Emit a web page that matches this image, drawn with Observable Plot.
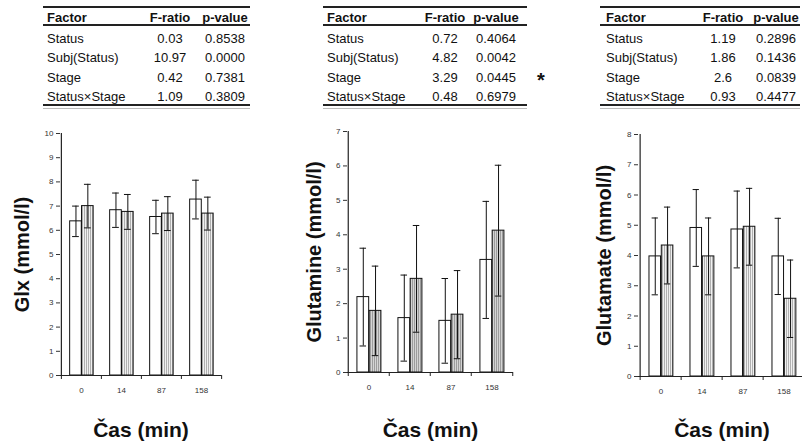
<!DOCTYPE html>
<html><head><meta charset="utf-8">
<script src="https://cdn.jsdelivr.net/npm/d3@7"></script>
<script src="https://cdn.jsdelivr.net/npm/@observablehq/plot@0.6"></script>
<style>
body{margin:0;background:#fff;overflow:hidden}
#root{position:relative;width:802px;height:445px;overflow:hidden;background:#fff;font-family:"Liberation Sans",Arial,sans-serif}
.panel{position:absolute;top:0;width:270px;height:445px}
.panel svg{max-width:none !important}
.t{position:absolute;font-size:13px;color:#111;white-space:nowrap;line-height:1}
.ln{position:absolute;background:#222}
</style></head><body><div id="root"></div>
<script>
// ---- data ----
const times = ["0", "14", "87", "158"];
const factors = ["Status", "Subj(Status)", "Stage", "Status×Stage"];
const tableHeader = ["Factor", "F-ratio", "p-value"];

const glxF = ["0.03", "10.97", "0.42", "1.09"];
const glxP = ["0.8538", "0.0000", "0.7381", "0.3809"];
const glnF = ["0.72", "4.82", "3.29", "0.48"];
const glnP = ["0.4064", "0.0042", "0.0445", "0.6979"];
const gluF = ["1.19", "1.86", "2.6", "0.93"];
const gluP = ["0.2896", "0.1436", "0.0839", "0.4477"];

const glxWhite = [6.37, 6.83, 6.55, 7.27];
const glxWhiteSd = [0.63, 0.71, 0.69, 0.80];
const glxShade = [7.00, 6.76, 6.69, 6.69];
const glxShadeSd = [0.90, 0.72, 0.70, 0.68];

const glnWhite = [2.19, 1.58, 1.50, 3.27];
const glnWhiteSd = [1.42, 1.25, 1.23, 1.70];
const glnShade = [1.79, 2.72, 1.68, 4.12];
const glnShadeSd = [1.30, 1.55, 1.28, 1.90];

const gluWhite = [3.97, 4.91, 4.86, 3.97];
const gluWhiteSd = [1.27, 1.27, 1.27, 1.26];
const gluShade = [4.33, 3.97, 4.95, 2.57];
const gluShadeSd = [1.27, 1.27, 1.27, 1.28];

const xTitle = "Čas (min)";
const significance = "*";

const root = document.getElementById("root");

function addPatterns(svg) {
  const defs = d3.select(svg).insert("defs", ":first-child");
  const p1 = defs.append("pattern").attr("id", "dotsLight").attr("width", 2).attr("height", 2).attr("patternUnits", "userSpaceOnUse");
  p1.append("rect").attr("width", 2).attr("height", 2).attr("fill", "#f0f0f0");
  p1.append("rect").attr("width", 1).attr("height", 2).attr("fill", "#b0b0b0");
  const p2 = defs.append("pattern").attr("id", "dotsDark").attr("width", 2).attr("height", 2).attr("patternUnits", "userSpaceOnUse");
  p2.append("rect").attr("width", 2).attr("height", 2).attr("fill", "#d4d4d4");
  p2.append("rect").attr("width", 1).attr("height", 2).attr("fill", "#9c9c9c");
}

function panel({left, ml, mr, mt, mb, yMax, label, labelDx, white, whiteSd, shade, shadeSd, pattern}) {
  const W = 270, H = 445;
  const bw = (W - ml - mr) / times.length;
  const rows = times.map((t, i) => ({t, a: white[i], as: whiteSd[i], b: shade[i], bs: shadeSd[i]}));
  const a0 = 0.215 * bw, a1 = 0.51 * bw, b1 = 0.805 * bw;
  const cA = (a0 + a1) / 2, cB = (a1 + b1) / 2;
  const cap = 3.5;
  const titleDy = 430 - (H - mb);
  const svg = Plot.plot({
    width: W, height: H,
    marginLeft: ml, marginRight: mr, marginTop: mt, marginBottom: mb,
    style: {fontFamily: "'Liberation Sans', Arial, sans-serif", background: "transparent", color: "#222", overflow: "visible", maxWidth: "none"},
    x: {type: "band", domain: times, padding: 0},
    y: {domain: [0, yMax]},
    marks: [
      Plot.barY(rows, {x: "t", y: "a", fill: "white", stroke: "#111", strokeWidth: 1, insetLeft: a0, insetRight: bw - a1}),
      Plot.barY(rows, {x: "t", y: "b", fill: `url(#${pattern})`, stroke: "#111", strokeWidth: 1, insetLeft: a1, insetRight: bw - b1}),
      Plot.ruleX(rows, {x: "t", y1: d => d.a - d.as, y2: d => d.a + d.as, dx: cA - bw / 2, stroke: "#111", strokeWidth: 1}),
      Plot.ruleX(rows, {x: "t", y1: d => d.b - d.bs, y2: d => d.b + d.bs, dx: cB - bw / 2, stroke: "#111", strokeWidth: 1}),
      Plot.tickY(rows, {x: "t", y: d => d.a + d.as, insetLeft: cA - cap, insetRight: bw - cA - cap, stroke: "#111"}),
      Plot.tickY(rows, {x: "t", y: d => d.a - d.as, insetLeft: cA - cap, insetRight: bw - cA - cap, stroke: "#111"}),
      Plot.tickY(rows, {x: "t", y: d => d.b + d.bs, insetLeft: cB - cap, insetRight: bw - cB - cap, stroke: "#111"}),
      Plot.tickY(rows, {x: "t", y: d => d.b - d.bs, insetLeft: cB - cap, insetRight: bw - cB - cap, stroke: "#111"}),
      Plot.ruleY([0], {stroke: "#222", strokeWidth: 1.2}),
      Plot.ruleX([times[0]], {dx: -bw / 2, stroke: "#222", strokeWidth: 1.2}),
      Plot.axisY({ticks: d3.range(0, yMax + 1), tickFormat: d3.format("d"), tickSize: 4, tickPadding: 3, fontSize: 8, label: null, color: "#333"}),
      Plot.axisX({tickSize: 0, tickPadding: 12, fontSize: 8, label: null, color: "#333"}),
      Plot.axisX(times, {tickSize: 4, dx: -bw / 2, fill: "none", label: null, stroke: "#222"}),
      Plot.axisX([times[times.length - 1]], {tickSize: 4, dx: bw / 2, fill: "none", label: null, stroke: "#222"}),
      Plot.text([label], {frameAnchor: "left", textAnchor: "middle", lineAnchor: "middle", rotate: -90, dx: labelDx, fontSize: 20, fontWeight: "bold", fill: "#111", text: d => d}),
      Plot.text([xTitle], {frameAnchor: "bottom", textAnchor: "middle", dy: titleDy, lineAnchor: "middle", fontSize: 21, fontWeight: "bold", fill: "#111", text: d => d})
    ]
  });
  addPatterns(svg);
  const div = document.createElement("div");
  div.className = "panel";
  div.style.left = left + "px";
  div.appendChild(svg);
  root.appendChild(div);
}

function table({x0, x1, fx, fc, pc, fv, pv}) {
  const rowY = [17, 37.5, 57, 76.5, 96];
  const put = (txt, x, y, align, bold) => {
    const s = document.createElement("span");
    s.className = "t";
    s.textContent = txt;
    s.style.left = x + "px";
    s.style.top = y + "px";
    s.style.transform = align === "left" ? "translate(0,-50%)" : "translate(-50%,-50%)";
    if (bold) s.style.fontWeight = "bold";
    root.appendChild(s);
  };
  put(tableHeader[0], fx, rowY[0], "left", true);
  put(tableHeader[1], fc, rowY[0], "center", true);
  put(tableHeader[2], pc, rowY[0], "center", true);
  factors.forEach((f, i) => {
    put(f, fx, rowY[i + 1], "left", false);
    put(fv[i], fc, rowY[i + 1], "center", false);
    put(pv[i], pc, rowY[i + 1], "center", false);
  });
  const line = (y, h, c) => {
    const d = document.createElement("div");
    d.className = "ln";
    d.style.left = x0 + "px"; d.style.width = (x1 - x0) + "px";
    d.style.top = y + "px"; d.style.height = h + "px";
    if (c) d.style.background = c;
    root.appendChild(d);
  };
  line(6, 2);
  line(24, 1.5);
  line(104, 2);
  line(108, 1, "#bbb");
}

table({x0: 43, x1: 250, fx: 47, fc: 170, pc: 225, fv: glxF, pv: glxP});
table({x0: 323, x1: 527, fx: 327, fc: 445, pc: 496, fv: glnF, pv: glnP});
table({x0: 600, x1: 800, fx: 606, fc: 723, pc: 776, fv: gluF, pv: gluP});

const star = document.createElement("span");
star.className = "t";
star.textContent = significance;
star.style.left = "541px"; star.style.top = "80px";
star.style.fontSize = "20px"; star.style.fontWeight = "bold";
star.style.transform = "translate(-50%,-50%)";
root.appendChild(star);

panel({left: 0, ml: 60, mr: 49, mt: 133, mb: 70, yMax: 10, label: "Glx (mmol/l)", labelDx: -38,
  white: glxWhite, whiteSd: glxWhiteSd, shade: glxShade, shadeSd: glxShadeSd, pattern: "dotsLight"});
panel({left: 270, ml: 77, mr: 27, mt: 131, mb: 73, yMax: 7, label: "Glutamine (mmol/l)", labelDx: -33,
  white: glnWhite, whiteSd: glnWhiteSd, shade: glnShade, shadeSd: glnShadeSd, pattern: "dotsDark"});
panel({left: 540, ml: 98, mr: 5, mt: 134, mb: 69, yMax: 8, label: "Glutamate (mmol/l)", labelDx: -34,
  white: gluWhite, whiteSd: gluWhiteSd, shade: gluShade, shadeSd: gluShadeSd, pattern: "dotsLight"});
</script></body></html>
